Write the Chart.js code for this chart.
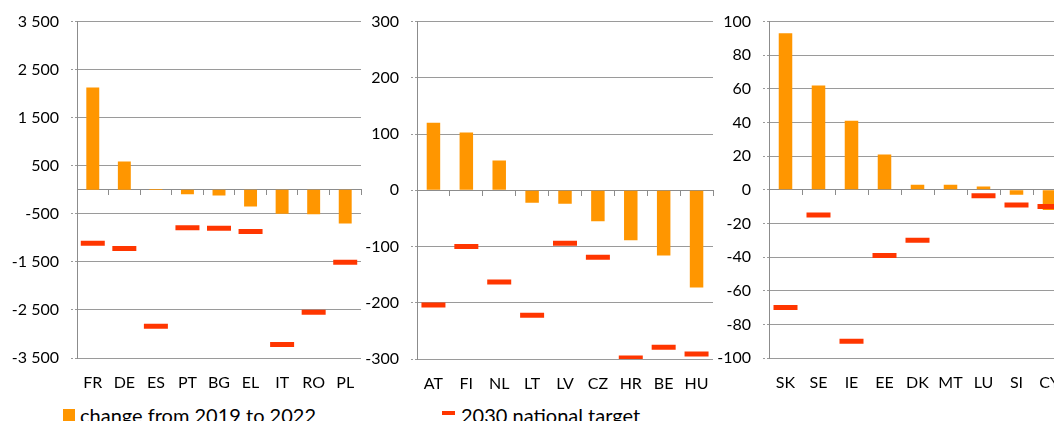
<!DOCTYPE html>
<html>
<head>
<meta charset="utf-8">
<script src="https://cdn.jsdelivr.net/npm/chart.js@4.4.1/dist/chart.umd.min.js"></script>
<style>
  html, body { margin: 0; padding: 0; background: #fff; width: 1054px; height: 421px; overflow: hidden; }
  canvas { position: absolute; top: 0; }
  .lg { position: absolute; font-family: Lato, sans-serif; font-size: 20px; line-height: 20px; color: #000; white-space: nowrap; }
</style>
</head>
<body>
<canvas id="c1" width="378" height="400" style="left:0"></canvas>
<canvas id="c2" width="385" height="400" style="left:345px"></canvas>
<canvas id="c3" width="368" height="400" style="left:715px"></canvas>

<div style="position:absolute;left:63px;top:409px;width:12px;height:12px;background:#ff9600"></div>
<div class="lg" style="left:80px;top:405px">change from 2019 to 2022</div>
<div style="position:absolute;left:442px;top:411px;width:13px;height:4px;background:#ff3600"></div>
<div class="lg" style="left:461px;top:405px">2030 national target</div>

<script>
// panel 1 - large member states
const labels1  = ['FR', 'DE', 'ES', 'PT', 'BG', 'EL', 'IT', 'RO', 'PL'];
const change1  = [2130, 590, 15, -90, -120, -350, -500, -510, -700];
const target1  = [-1110, -1220, -2840, -790, -800, -870, -3220, -2550, -1510];
const ticks1   = [-3500, -2500, -1500, -500, 500, 1500, 2500, 3500];

// panel 2
const labels2  = ['AT', 'FI', 'NL', 'LT', 'LV', 'CZ', 'HR', 'BE', 'HU'];
const change2  = [120, 103, 53, -22, -24, -55, -89, -116, -173];
const target2  = [-204, -100, -163, -222, -94, -119, -298, -279, -291];
const ticks2   = [-300, -200, -100, 0, 100, 200, 300];

// panel 3
const labels3  = ['SK', 'SE', 'IE', 'EE', 'DK', 'MT', 'LU', 'SI', 'CY'];
const change3  = [93, 62, 41, 21, 3, 3, 2, -3, -12];
const target3  = [-70, -15, -90, -39, -30, null, -3.5, -9, -10];
const ticks3   = [-100, -80, -60, -40, -20, 0, 20, 40, 60, 80, 100];

const ORANGE = '#ff9600';
const RED    = '#ff3600';
const AXIS   = '#8c8c8c';
const GRID   = '#9a9a9a';
const font   = { family: 'Lato', size: 16 };

// "3 500" style thousands separator
const fmt = v => {
  const s = Math.abs(v).toString().replace(/\B(?=(\d{3})+(?!\d))/g, ' ');
  return (v < 0 ? '-' : '') + s;
};

function makeChart(id, labels, change, target, ticks, yWidth, padRight, bottomH) {
  const ctx = document.getElementById(id).getContext('2d');
  return new Chart(ctx, {
    type: 'bar',
    data: {
      labels,
      datasets: [
        {
          label: 'change from 2019 to 2022',
          data: change,
          backgroundColor: ORANGE,
          barPercentage: 0.41,
          categoryPercentage: 1,
          xAxisID: 'x',
          yAxisID: 'y',
          order: 2,
        },
        {
          type: 'line',
          label: '2030 national target',
          data: target,
          showLine: false,
          pointStyle: 'line',
          pointRadius: 12,
          pointHoverRadius: 12,
          pointBorderWidth: 5,
          pointBorderColor: RED,
          borderColor: RED,
          xAxisID: 'x',
          yAxisID: 'y',
          order: 1,
        }
      ]
    },
    options: {
      responsive: false,
      animation: false,
      events: [],
      layout: { padding: { top: 21, right: padRight, left: 0, bottom: 0 } },
      plugins: { legend: { display: false }, tooltip: { enabled: false } },
      scales: {
        y: {
          min: ticks[0],
          max: ticks[ticks.length - 1],
          afterBuildTicks: s => { s.ticks = ticks.map(v => ({ value: v })); },
          afterFit: s => { s.width = yWidth; },
          grid: {
            color: c => c.tick && c.tick.value === 0 ? 'transparent' : GRID,
            tickColor: GRID,
            borderDash: [2, 2],
            tickBorderDash: [2, 2],
            tickLength: 6,
          },
          border: { display: true, color: AXIS, width: 1 },
          ticks: { font, color: '#000', padding: 12, callback: v => fmt(v) },
        },
        x: {
          type: 'category',
          position: { y: 0 },
          offset: true,
          grid: { drawOnChartArea: false, drawTicks: true, tickLength: 5, color: AXIS },
          border: { display: true, color: AXIS, width: 1 },
          ticks: { display: false },
        },
        xl: {
          type: 'category',
          position: 'bottom',
          offset: true,
          afterFit: s => { s.height = bottomH; },
          grid: { display: false, drawTicks: false },
          border: { display: false },
          ticks: { font, color: '#000', padding: 15, maxRotation: 0, autoSkip: false },
        }
      }
    }
  });
}

makeChart('c1', labels1, change1, target1, ticks1, 77, 5, 42);
makeChart('c2', labels2, change2, target2, ticks2, 72, 5, 41);
makeChart('c3', labels3, change3, target3, ticks3, 54, 5, 42);
</script>
</body>
</html>
